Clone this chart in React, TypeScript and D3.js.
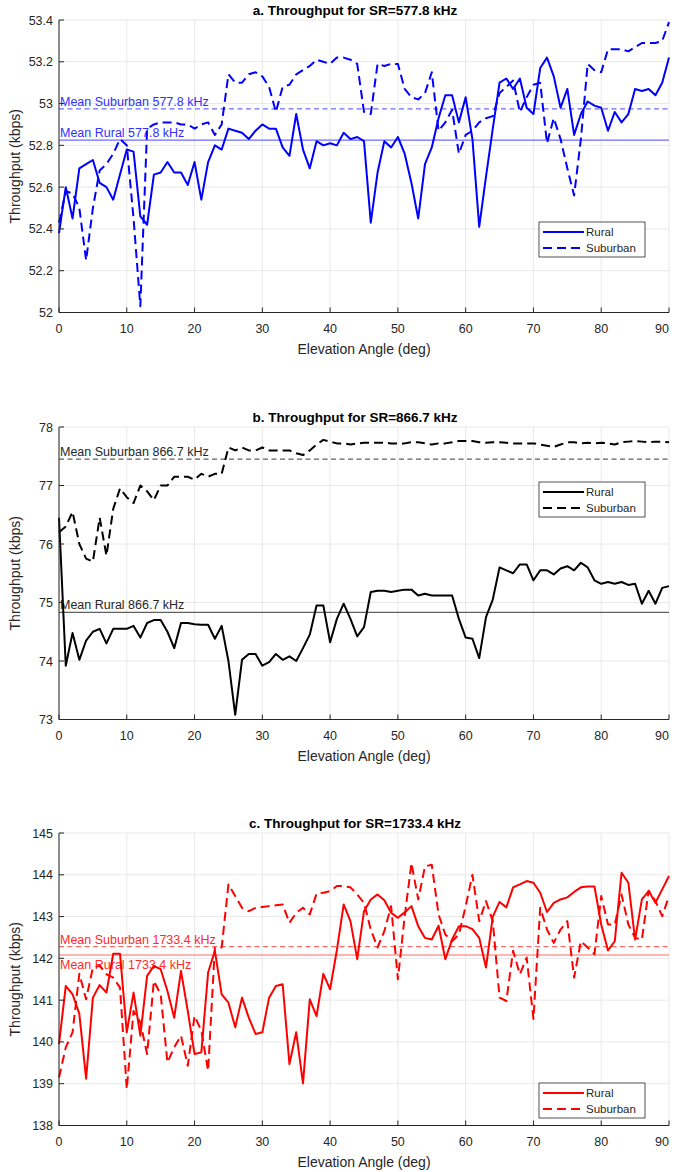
import React from 'react';
import * as d3 from 'd3';

// elevation angle, one sample per degree
const angles = d3.range(0, 91);
const xTicks = [0, 10, 20, 30, 40, 50, 60, 70, 80, 90];

const ruralA = [
  52.38, 52.6, 52.45, 52.69, 52.71, 52.73, 52.62, 52.6, 52.54, 52.66,
  52.78, 52.77, 52.46, 52.42, 52.66, 52.67, 52.72, 52.67, 52.67, 52.61,
  52.72, 52.54, 52.72, 52.8, 52.78, 52.88, 52.87, 52.86, 52.83, 52.87,
  52.9, 52.88, 52.88, 52.79, 52.75, 52.95, 52.78, 52.69, 52.82, 52.8,
  52.81, 52.8, 52.86, 52.83, 52.84, 52.82, 52.43, 52.67, 52.82, 52.79,
  52.84, 52.76, 52.62, 52.45, 52.71, 52.79, 52.93, 53.04, 53.04, 52.91,
  53.03, 52.83, 52.41, 52.65, 52.88, 53.1, 53.12, 53.07, 53.12, 52.98,
  52.95, 53.17, 53.22, 53.13, 52.98, 53.07, 52.85, 52.95, 53.01, 52.99,
  52.98, 52.87, 52.96, 52.91, 52.95, 53.07, 53.06, 53.07, 53.04, 53.1, 53.22,
];
const suburbanA = [
  52.43, 52.58, 52.57, 52.5, 52.25, 52.5, 52.68, 52.71, 52.76, 52.83,
  52.8, 52.45, 52.03, 52.88, 52.9, 52.91, 52.91, 52.91, 52.9, 52.9,
  52.88, 52.9, 52.91, 52.85, 52.9, 53.14, 53.1, 53.1, 53.14, 53.15,
  53.13, 53.08, 52.96, 53.08, 53.09, 53.14, 53.16, 53.18, 53.21, 53.2,
  53.19, 53.22, 53.22, 53.21, 53.19, 52.96, 52.95, 53.19, 53.18, 53.19,
  53.19, 53.07, 53.03, 53.02, 53.05, 53.15, 52.87, 52.91, 52.97, 52.76,
  52.85, 52.87, 52.91, 52.93, 52.94, 53.05, 53.08, 53.11, 52.96, 53.03,
  53.09, 53.1, 52.81, 52.93, 52.83, 52.69, 52.56, 52.83, 53.19, 53.16,
  53.15, 53.26, 53.26, 53.26, 53.25, 53.27, 53.29, 53.29, 53.29, 53.3, 53.39,
];

const ruralB = [
  76.45, 73.92, 74.48, 74.02, 74.35, 74.5, 74.55, 74.3, 74.55, 74.55,
  74.55, 74.6, 74.4, 74.65, 74.7, 74.7, 74.5, 74.22, 74.65, 74.65,
  74.63, 74.62, 74.62, 74.38, 74.6, 74.0, 73.08, 74.02, 74.12, 74.12,
  73.92, 73.98, 74.12, 74.02, 74.08, 74.0, 74.22, 74.45, 74.95, 74.95,
  74.32, 74.72, 74.98, 74.72, 74.42, 74.58, 75.18, 75.2, 75.2, 75.18,
  75.2, 75.22, 75.22, 75.12, 75.15, 75.12, 75.12, 75.12, 75.12, 74.72,
  74.4, 74.38, 74.05, 74.75, 75.05, 75.6, 75.55, 75.5, 75.65, 75.65,
  75.38, 75.55, 75.55, 75.48, 75.58, 75.62, 75.55, 75.68, 75.6, 75.38,
  75.32, 75.35, 75.32, 75.35, 75.3, 75.32, 74.98, 75.2, 74.98, 75.25, 75.28,
];
const suburbanB = [
  76.2, 76.3, 76.55, 76.0, 75.75, 75.7, 76.45, 75.8, 76.6, 76.95,
  76.8, 76.7, 77.0, 76.9, 76.75, 77.0, 77.0, 77.15, 77.15, 77.15,
  77.1, 77.2, 77.15, 77.2, 77.2, 77.65, 77.6, 77.65, 77.6, 77.6,
  77.65, 77.6, 77.6, 77.6, 77.6, 77.55, 77.52, 77.6, 77.7, 77.78,
  77.75, 77.72, 77.72, 77.7, 77.72, 77.73, 77.73, 77.73, 77.73, 77.72,
  77.72, 77.72, 77.74, 77.74, 77.72, 77.7, 77.72, 77.72, 77.74, 77.76,
  77.76, 77.76, 77.74, 77.73, 77.74, 77.74, 77.73, 77.72, 77.72, 77.72,
  77.72, 77.7, 77.68, 77.66, 77.7, 77.74, 77.74, 77.72, 77.73, 77.72,
  77.73, 77.72, 77.7, 77.74, 77.75, 77.76, 77.75, 77.74, 77.75, 77.75, 77.74,
];

const ruralC = [
  139.95, 141.34, 141.14, 140.67, 139.12, 141.06, 141.36, 141.18, 142.11, 142.11,
  140.23, 141.18, 140.15, 141.58, 141.82, 141.74, 141.22, 140.58, 141.7, 140.74,
  139.71, 139.75, 141.66, 142.18, 141.14, 140.94, 140.35, 141.06, 140.58, 140.19,
  140.23, 141.06, 141.34, 141.38, 139.47, 140.23, 139.01, 141.02, 140.62, 141.63,
  141.26, 142.2, 143.29, 142.89, 141.98, 143.13, 143.41, 143.53, 143.39, 143.09,
  142.97, 143.1, 143.25, 142.77, 142.49, 142.45, 142.78, 141.98, 142.45, 142.77,
  142.77, 142.7, 142.49, 141.78, 143.0, 143.35, 143.22, 143.7, 143.77, 143.85,
  143.81, 143.57, 143.11, 143.33, 143.41, 143.46, 143.59, 143.7, 143.72, 143.72,
  142.81, 142.19, 142.41, 144.05, 143.81, 142.45, 143.41, 143.61, 143.33, 143.65, 143.97,
];
const suburbanC = [
  139.15, 139.87, 140.23, 141.63, 141.02, 141.78, 141.82, 141.62, 141.54, 141.3,
  138.87, 140.74, 140.47, 139.71, 141.46, 141.14, 139.51, 139.87, 140.15, 139.43,
  140.62, 140.27, 139.31, 142.26, 142.26, 143.77, 143.49, 143.21, 143.13, 143.21,
  143.23, 143.25, 143.27, 143.29, 142.85, 143.09, 143.21, 143.05, 143.55, 143.57,
  143.61, 143.73, 143.73, 143.7, 143.53, 143.33, 142.69, 142.26, 142.65, 143.25,
  141.5, 143.0, 144.28, 143.41, 144.2, 144.24, 143.05, 142.57, 142.41, 142.57,
  143.25, 144.0, 142.89, 143.37, 142.89, 141.06, 140.98, 142.18, 141.62, 142.02,
  140.55, 143.21, 142.69, 142.37, 142.69, 142.89, 141.54, 142.41, 142.26, 142.1,
  143.49, 142.81, 142.81, 143.53, 142.81, 142.49, 142.45, 143.62, 143.37, 143.01, 143.49,
];

const meanRural = [52.825, 74.83, 142.08];
const meanSuburban = [52.975, 77.45, 142.28];
const symbolRates = ['577.8', '866.7', '1733.4'];
const panelLetters = ['a', 'b', 'c'];

const yTicksA = [52, 52.2, 52.4, 52.6, 52.8, 53, 53.2, 53.4];
const yTicksB = [73, 74, 75, 76, 77, 78];
const yTicksC = [138, 139, 140, 141, 142, 143, 144, 145];

const FONT = '"Liberation Sans", Arial, Helvetica, sans-serif';
const AX = '#262626';
const GRID = '#e8e8e8';

const left = 59;
const right = 669;
const plotH = 292.5;

const Panel = (props) => {
  const { idx, top, rural, suburban, yTicks, color, meanColor, textColor, legendTop, ruralLabelBelow } = props;
  const x = d3.scaleLinear().domain([0, 90]).range([left, right]);
  const y = d3
    .scaleLinear()
    .domain([yTicks[0], yTicks[yTicks.length - 1]])
    .range([top + plotH, top]);

  const line = d3
    .line()
    .x((d) => x(d[0]))
    .y((d) => y(d[1]));

  const ruralPath = line(angles.map((a, i) => [a, rural[i]]));
  const suburbanPath = line(angles.map((a, i) => [a, suburban[i]]));

  const yMs = y(meanSuburban[idx]);
  const yMr = y(meanRural[idx]);
  const bottom = top + plotH;
  const sr = symbolRates[idx];

  return (
    <g fontFamily={FONT}>
      {/* grid */}
      {xTicks.map((t) => (
        <line key={'gx' + t} x1={x(t)} x2={x(t)} y1={top} y2={bottom} stroke={GRID} strokeWidth={1} />
      ))}
      {yTicks.map((t) => (
        <line key={'gy' + t} x1={left} x2={right} y1={y(t)} y2={y(t)} stroke={GRID} strokeWidth={1} />
      ))}

      {/* mean lines */}
      <line x1={left} x2={right} y1={yMs} y2={yMs} stroke={meanColor} strokeWidth={1.2} strokeDasharray="5,3.5" />
      <line x1={left} x2={right} y1={yMr} y2={yMr} stroke={meanColor} strokeWidth={1.2} />
      <text x={left + 1} y={yMs - 3} fontSize={12.5} fill={textColor}>
        {`Mean Suburban ${sr} kHz`}
      </text>
      <text x={left + 1} y={ruralLabelBelow ? yMr + 14 : yMr - 3} fontSize={12.5} fill={textColor}>
        {`Mean Rural ${sr} kHz`}
      </text>

      {/* data */}
      <path d={suburbanPath} fill="none" stroke={color} strokeWidth={2} strokeDasharray="9,5" strokeLinejoin="round" />
      <path d={ruralPath} fill="none" stroke={color} strokeWidth={2} strokeLinejoin="round" />

      {/* axes */}
      <line x1={left} x2={left} y1={top} y2={bottom} stroke={AX} strokeWidth={1} />
      <line x1={left} x2={right} y1={bottom} y2={bottom} stroke={AX} strokeWidth={1} />
      {yTicks.map((t) => (
        <g key={'ty' + t}>
          <line x1={left} x2={left + 5} y1={y(t)} y2={y(t)} stroke={AX} />
          <text x={left - 6} y={y(t) + 4.5} textAnchor="end" fontSize={12.5} fill={AX}>
            {String(+t.toFixed(1))}
          </text>
        </g>
      ))}
      {xTicks.map((t) => (
        <g key={'tx' + t}>
          <line x1={x(t)} x2={x(t)} y1={bottom} y2={bottom - 5} stroke={AX} />
          <text x={Math.min(x(t), 662)} y={bottom + 20} textAnchor="middle" fontSize={12.5} fill={AX}>
            {t}
          </text>
        </g>
      ))}

      <text x={(left + right) / 2} y={bottom + 41} textAnchor="middle" fontSize={14} fill={AX}>
        Elevation Angle (deg)
      </text>
      <text
        transform={`translate(20, ${top + plotH / 2}) rotate(-90)`}
        textAnchor="middle"
        fontSize={14}
        fill={AX}
      >
        Throughput (kbps)
      </text>
      <text x={355} y={top - 5} textAnchor="middle" fontSize={13.5} fontWeight="bold" fill="#000">
        {`${panelLetters[idx]}. Throughput for SR=${sr} kHz`}
      </text>

      {/* legend */}
      <g transform={`translate(539, ${legendTop})`}>
        <rect x={0} y={0} width={106} height={35} fill="#fff" stroke={AX} strokeWidth={0.8} />
        <line x1={4} x2={45} y1={10} y2={10} stroke={color} strokeWidth={2} />
        <line x1={4} x2={45} y1={26} y2={26} stroke={color} strokeWidth={2} strokeDasharray="9,5" />
        <text x={47} y={14} fontSize={11.5} fill={AX}>Rural</text>
        <text x={47} y={30} fontSize={11.5} fill={AX}>Suburban</text>
      </g>
    </g>
  );
};

const App = () => {
  return (
    <svg
      width={674}
      height={1172}
      style={{ position: 'absolute', left: 0, top: 0, background: '#fff' }}
    >
      <rect width={674} height={1172} fill="#fff" />
      <Panel
        idx={0}
        top={20}
        rural={ruralA}
        suburban={suburbanA}
        yTicks={yTicksA}
        color="#0000ff"
        meanColor="#6b6bff"
        textColor="#3030ff"
        legendTop={222}
      />
      <Panel
        idx={1}
        top={427}
        rural={ruralB}
        suburban={suburbanB}
        yTicks={yTicksB}
        color="#000000"
        meanColor="#606060"
        textColor="#262626"
        legendTop={482}
      />
      <Panel
        idx={2}
        top={833}
        rural={ruralC}
        suburban={suburbanC}
        yTicks={yTicksC}
        color="#ff0000"
        meanColor="#ff6b6b"
        textColor="#ff2a2a"
        legendTop={1083}
        ruralLabelBelow
      />
    </svg>
  );
};

export default App;
